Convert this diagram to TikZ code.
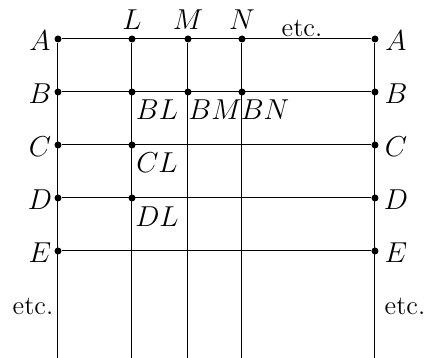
\documentclass[tikz,border=0pt]{standalone}
\usepackage{amsmath,amssymb}
\usepackage{tikz}
\usetikzlibrary{positioning}

\begin{document}
\begin{tikzpicture}[x=0.5pt,y=-0.5pt,
        dot/.style={circle,fill=black,inner sep=0pt,minimum size=3.5pt},
        lbl/.style={font=\fontsize{13.3pt}{16pt}\selectfont,inner sep=0pt},
        ln/.style={line width=0.5pt}
      ]
        \useasboundingbox (0,0) rectangle (425,358);
        % Rows with dots at both ends
        \foreach \r/\y in {A/39,B/92,C/145,D/198,E/251}{
          \node[dot] (l\r) at (58,\y) {};
          \node[dot] (r\r) at (375,\y) {};
          \node[lbl] (tl\r) at (40,\y+2) {$\r$};
          \node[lbl] (tr\r) at (396,\y+2) {$\r$};
          \draw[ln] (l\r) -- (r\r);
        }
        \node[lbl] (etcl) at (33,306) {etc.};
        \node[lbl] (etcr) at (405,306) {etc.};
        % Columns
        \node[dot] (AL) at (132,39) {};
        \node[dot] (AM) at (188,39) {};
        \node[dot] (AN) at (242,39) {};
        \node[dot] (BL) at (132,92) {};
        \node[dot] (BM) at (188,92) {};
        \node[dot] (BN) at (242,92) {};
        \node[dot] (CL) at (132,145) {};
        \node[dot] (DL) at (132,198) {};
        \node[lbl] (tL) at (132,20) {$L$};
        \node[lbl] (tM) at (188,20) {$M$};
        \node[lbl] (tN) at (242,20) {$N$};
        \node[lbl] (etct) at (302,28) {etc.};
        \coordinate (bl) at (58,358);
        \coordinate (bL) at (132,358);
        \coordinate (bM) at (188,358);
        \coordinate (bN) at (242,358);
        \coordinate (br) at (375,358);
        \draw[ln] (lA) -- (bl);
        \draw[ln] (AL) -- (bL);
        \draw[ln] (AM) -- (bM);
        \draw[ln] (AN) -- (bN);
        \draw[ln] (rA) -- (br);
        % Intersection labels
        \node[lbl] (tBL) at (157,110) {$BL$};
        \node[lbl] (tBM) at (215,110) {$BM$};
        \node[lbl] (tBN) at (265,110) {$BN$};
        \node[lbl] (tCL) at (157,163) {$CL$};
        \node[lbl] (tDL) at (157,217) {$DL$};
      \end{tikzpicture}
\end{document}
